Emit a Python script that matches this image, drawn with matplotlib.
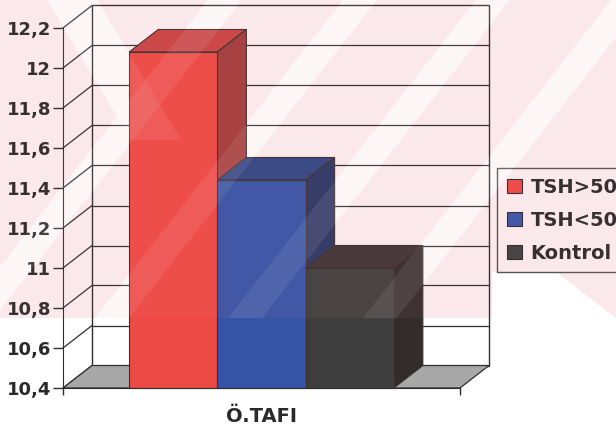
import matplotlib
matplotlib.use("Agg")
import matplotlib.pyplot as plt
from matplotlib.patches import Polygon, Rectangle, Patch
from matplotlib.ticker import FuncFormatter

# ---- data -------------------------------------------------------------
groups = ["TSH>50", "TSH<50", "Kontrol"]
values = [12.08, 11.44, 11.0]
category = "Ö.TAFI"
y_ticks = [10.4, 10.6, 10.8, 11.0, 11.2, 11.4, 11.6, 11.8, 12.0, 12.2]

# face colours: front, top, side
front_colors = ["#EE4A45", "#3654A6", "#3E3E3E"]
top_colors = ["#C94444", "#2F4685", "#3F3434"]
side_colors = ["#A33C3C", "#2A3866", "#332C2C"]

plt.rcParams["font.family"] = ["DejaVu Sans"]
plt.rcParams["font.weight"] = "bold"
text_c = "#2A2A2A"

W, H = 616, 430
fig = plt.figure(figsize=(W / 100, H / 100), dpi=100)
fig.patch.set_facecolor("white")


def fp(x, y):
    """pixel position (from top-left) -> figure fraction"""
    return (x / W, 1 - y / H)


# ---- background watermark --------------------------------------------
WM_BOTTOM = 318
band = [fp(0, 0), fp(W, 0), fp(W, WM_BOTTOM), fp(556, 272), fp(492, 272),
        fp(492, WM_BOTTOM), fp(0, WM_BOTTOM)]
fig.add_artist(Polygon(band, closed=True, transform=fig.transFigure,
                       facecolor="#FDF0F2", edgecolor="none", zorder=-10))

stripe_tops = [225, 360, 493, 628]
slope = 0.78
sw = 34
stripes = []
for xt in stripe_tops:
    stripes.append([fp(xt - sw / 2, 0), fp(xt + sw / 2, 0),
                    fp(xt + sw / 2 - slope * WM_BOTTOM, WM_BOTTOM),
                    fp(xt - sw / 2 - slope * WM_BOTTOM, WM_BOTTOM)])
# one stripe leaning the other way at the top left
stripes.append([fp(47, 0), fp(97, 0), fp(97 + 0.6 * 140, 140), fp(47 + 0.6 * 140, 140)])
for pts in stripes:
    fig.add_artist(Polygon(pts, closed=True, transform=fig.transFigure,
                           facecolor="white", edgecolor="none", zorder=-9))

# ---- axes: front plane of the 3-D box --------------------------------
ax = fig.add_axes([63 / W, (H - 388) / H, 397 / W, 360 / H])
ax.set_facecolor("none")
X0, X1 = 0.0, 4.5
Y0, Y1 = y_ticks[0], y_ticks[-1]
ax.set_xlim(X0, X1)
ax.set_ylim(Y0, Y1)

DX = 29 / 397 * (X1 - X0)   # depth offset along x (data units)
DY = 22.5 / 360 * (Y1 - Y0)  # depth offset along y (data units)
line_c = "#2E2E2E"

# back wall and its grid
ax.add_patch(Rectangle((X0 + DX, Y0 + DY), X1 - X0, Y1 - Y0, fill=False,
                       edgecolor=line_c, lw=1.0, zorder=1, clip_on=False))
for v in y_ticks[1:-1]:
    ax.plot([X0 + DX, X1 + DX], [v + DY, v + DY], color=line_c, lw=0.9,
            zorder=1, clip_on=False)
# side wall grid
for v in y_ticks:
    ax.plot([X0, X0 + DX], [v, v + DY], color=line_c, lw=0.9, zorder=1, clip_on=False)

# floor
ax.add_patch(Polygon([(X0, Y0), (X1, Y0), (X1 + DX, Y0 + DY), (X0 + DX, Y0 + DY)],
                     closed=True, facecolor="#A8A8A8", edgecolor=line_c, lw=0.9,
                     zorder=2, clip_on=False))

# bars
edge_c = "#3A2E2E"
for i, v in enumerate(values):
    x0 = 0.75 + i
    x1 = x0 + 1.0
    ax.add_patch(Polygon([(x0, v), (x1, v), (x1 + DX, v + DY), (x0 + DX, v + DY)],
                         closed=True, facecolor=top_colors[i], edgecolor=edge_c,
                         lw=0.8, zorder=3 + i, clip_on=False))
    ax.add_patch(Polygon([(x1, Y0), (x1 + DX, Y0 + DY), (x1 + DX, v + DY), (x1, v)],
                         closed=True, facecolor=side_colors[i], edgecolor=edge_c,
                         lw=0.8, zorder=3 + i, clip_on=False))
    ax.add_patch(Rectangle((x0, Y0), 1.0, v - Y0, facecolor=front_colors[i],
                           edgecolor=edge_c, lw=0.8, zorder=3 + i, clip_on=False))

# axis styling
for s in ["top", "right"]:
    ax.spines[s].set_visible(False)
ax.spines["left"].set_color(line_c)
ax.spines["bottom"].set_color(line_c)
ax.spines["left"].set_zorder(7)
ax.spines["bottom"].set_zorder(7)
ax.set_yticks(y_ticks)
ax.yaxis.set_major_formatter(FuncFormatter(lambda v, p: f"{v:g}".replace(".", ",")))
ax.tick_params(axis="y", direction="out", length=7, width=1, color=line_c,
               labelsize=13, labelcolor=text_c, pad=1.5)
ax.set_xticks([X0, X1])
ax.set_xticklabels([])
ax.tick_params(axis="x", direction="out", length=5, width=1, color=line_c)
ax.set_xlabel(category, fontsize=14, fontweight="bold", color=text_c, labelpad=5)

# legend
handles = [Patch(facecolor=front_colors[i], edgecolor=text_c, lw=0.8)
           for i in range(len(groups))]
leg = fig.legend(handles, groups, loc="upper left", bbox_to_anchor=fp(497, 168),
                 bbox_transform=fig.transFigure, frameon=True, fancybox=False,
                 edgecolor=text_c, facecolor="none", framealpha=None,
                 prop={"size": 14, "weight": "bold"}, handlelength=0.77,
                 handleheight=0.77, handletextpad=0.45, labelspacing=0.72,
                 borderpad=0.5, borderaxespad=0)
leg.get_frame().set_linewidth(1.0)
for t in leg.get_texts():
    t.set_color(text_c)

# translucent watermark tint laid over everything in the upper band
fig.add_artist(Polygon(band, closed=True, transform=fig.transFigure,
                       facecolor=(0.92, 0.55, 0.6), alpha=0.07, edgecolor="none",
                       zorder=20))
for pts in stripes:
    fig.add_artist(Polygon(pts, closed=True, transform=fig.transFigure,
                           facecolor="white", alpha=0.08, edgecolor="none", zorder=21))

fig.savefig("out.png", dpi=100)
